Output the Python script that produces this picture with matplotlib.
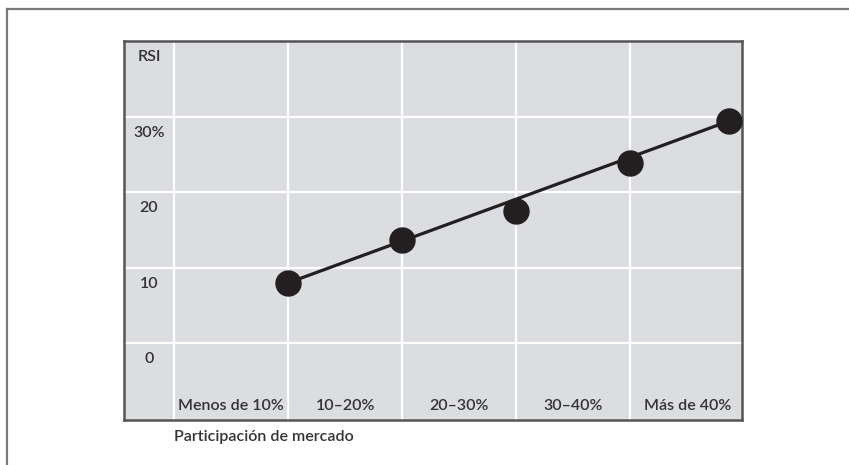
import matplotlib.pyplot as plt
from matplotlib.lines import Line2D

# RSI by market share band
categories = ["Menos de 10%", "10–20%", "20–30%", "30–40%", "Más de 40%"]
share_pos = [1, 2, 3, 4, 4.87]
rsi = [8.0, 13.7, 17.5, 23.9, 29.5]
y_ticks = [0, 10, 20, 30]
y_labels = ["0", "10", "20", "30%"]

text_color = "#333333"
fs = 11.5
plt.rcParams['font.family'] = ['Lato', 'DejaVu Sans']

fig = plt.figure(figsize=(8.49, 4.65), dpi=100)
fig.patch.set_facecolor("white")

# outer frame (top and left edges)
fig.add_artist(Line2D([7 / 849, 1.0], [1 - 9 / 465, 1 - 9 / 465], color="#7a7a7a", lw=1.6))
fig.add_artist(Line2D([7 / 849, 7 / 849], [0.0, 1 - 9 / 465], color="#7a7a7a", lw=1.6))

ax = fig.add_axes([124 / 849, 1 - 420 / 465, 618 / 849, 379 / 465])
ax.set_facecolor("#dcdde0")
ax.set_xlim(-0.44, 4.98)
ax.set_ylim(-10.2, 40.1)

ax.set_xticks(range(5))
ax.set_yticks(y_ticks)
ax.grid(True, color="white", lw=1.6)
ax.set_axisbelow(True)
ax.tick_params(length=0, labelbottom=False, labelleft=False)
for s in ax.spines.values():
    s.set_color("#555555")
    s.set_linewidth(1.8)

# trend line across the first and last point, then the markers
ax.plot([share_pos[0], share_pos[-1]], [rsi[0], rsi[-1]], color="#231f20", lw=2.3, zorder=3)
ax.plot(share_pos, rsi, "o", color="#231f20", ms=18, zorder=4)

# y labels sit just under their gridline, inside the first column
for v, lab in zip(y_ticks, y_labels):
    ax.text(-0.22, v - 2.1, lab, ha="center", va="center", fontsize=fs,
            fontweight="semibold", color=text_color)
ax.text(-0.22, 38.0, "RSI", ha="center", va="center", fontsize=fs,
        fontweight="semibold", color=text_color)

for i, c in enumerate(categories):
    ax.text(i + 0.5, -8.4, c, ha="center", va="center", fontsize=fs,
            fontweight="semibold", color=text_color)

ax.text(0, -0.045, "Participación de mercado", transform=ax.get_xaxis_transform(),
        ha="left", va="center", fontsize=fs, fontweight="semibold", color=text_color)

fig.savefig("out.png", dpi=100)
